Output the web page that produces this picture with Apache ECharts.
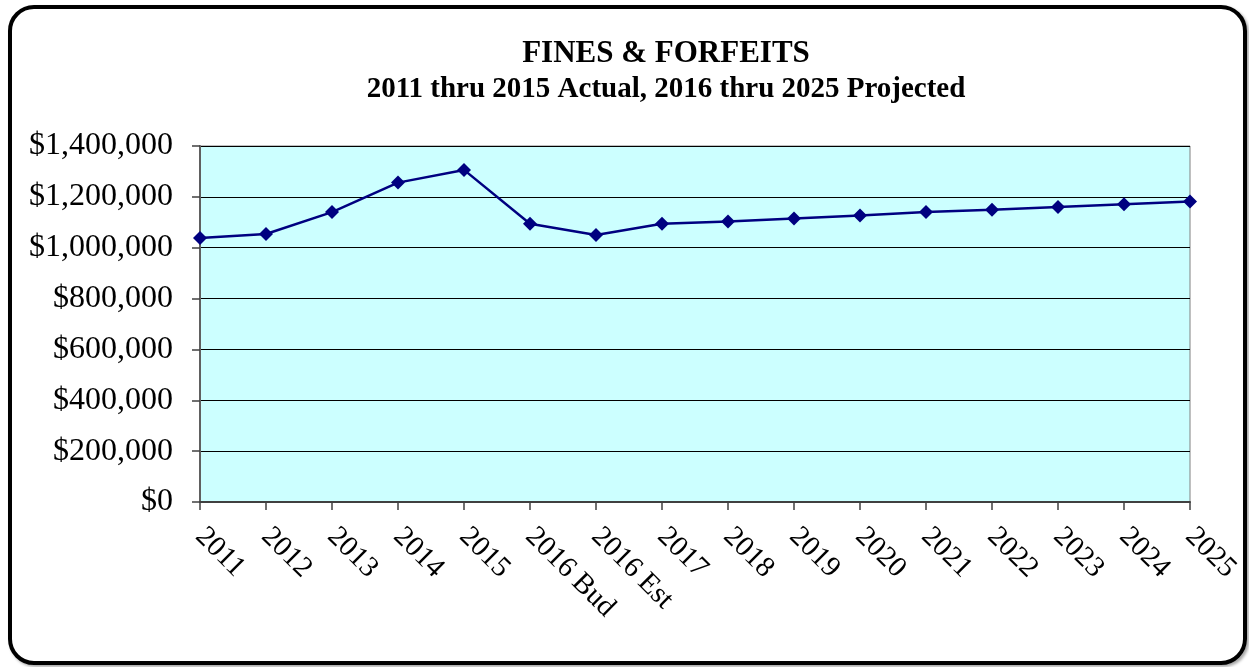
<!DOCTYPE html>
<html>
<head>
<meta charset="utf-8">
<script src="https://cdn.jsdelivr.net/npm/echarts@6/dist/echarts.min.js"></script>
<style>
  html, body { margin: 0; padding: 0; background: #fff; }
  #frame {
    position: absolute; left: 8px; top: 5px;
    width: 1231px; height: 652px;
    border: 4px solid #000; border-radius: 26px;
    box-shadow: 2px 2px 3px rgba(0,0,0,0.35);
  }
  #chart { position: absolute; left: 0; top: 0; width: 1249px; height: 667px; }
</style>
</head>
<body>
<div id="frame"></div>
<div id="chart"></div>
<script>
// categories (years, 2016 split into budget and estimate)
var years = ['2011', '2012', '2013', '2014', '2015', '2016 Bud', '2016 Est', '2017',
  '2018', '2019', '2020', '2021', '2022', '2023', '2024', '2025'];
// fines & forfeits revenue
var fines = [1038000, 1054000, 1140000, 1256000, 1306000, 1094000, 1050000, 1094000,
  1103000, 1115000, 1127000, 1140000, 1149000, 1160000, 1171000, 1182000];

var serif = '"Liberation Serif", "DejaVu Serif", serif';

var myChart = echarts.init(document.getElementById('chart'));
myChart.setOption({
  animation: false,
  title: {
    text: 'FINES & FORFEITS',
    subtext: '2011 thru 2015 Actual, 2016 thru 2025 Projected',
    left: 661,
    top: 33,
    textAlign: 'center',
    itemGap: 6,
    textStyle: { fontFamily: serif, fontWeight: 'bold', fontSize: 31, color: '#000' },
    subtextStyle: { fontFamily: serif, fontWeight: 'bold', fontSize: 29, color: '#000' }
  },
  grid: {
    left: 200,
    right: 59,
    top: 146,
    bottom: 165,
    show: true,
    backgroundColor: '#ccffff',
    borderColor: '#808080',
    borderWidth: 1
  },
  xAxis: {
    type: 'category',
    boundaryGap: false,
    data: years,
    axisLine: { lineStyle: { color: '#404040', width: 2 } },
    axisTick: { show: true, length: 8, lineStyle: { color: '#404040', width: 1.5 } },
    axisLabel: {
      rotate: -45,
      margin: 30,
      interval: 0,
      fontFamily: serif,
      fontSize: 29,
      color: '#000'
    }
  },
  yAxis: {
    type: 'value',
    min: 0,
    max: 1400000,
    interval: 200000,
    axisLine: { show: true, lineStyle: { color: '#606060', width: 2 } },
    axisTick: { show: true, length: 8, lineStyle: { color: '#404040', width: 1.5 } },
    splitLine: { lineStyle: { color: '#000', width: 1 } },
    axisLabel: {
      margin: 27,
      fontFamily: serif,
      fontSize: 32,
      color: '#000',
      formatter: function (v) {
        return '$' + v.toString().replace(/\B(?=(\d{3})+(?!\d))/g, ',');
      }
    }
  },
  series: [{
    name: 'Fines & Forfeits',
    type: 'line',
    data: fines,
    symbol: 'diamond',
    symbolSize: 14,
    itemStyle: { color: '#000080' },
    lineStyle: { color: '#000080', width: 2.5 }
  }]
});
</script>
</body>
</html>
